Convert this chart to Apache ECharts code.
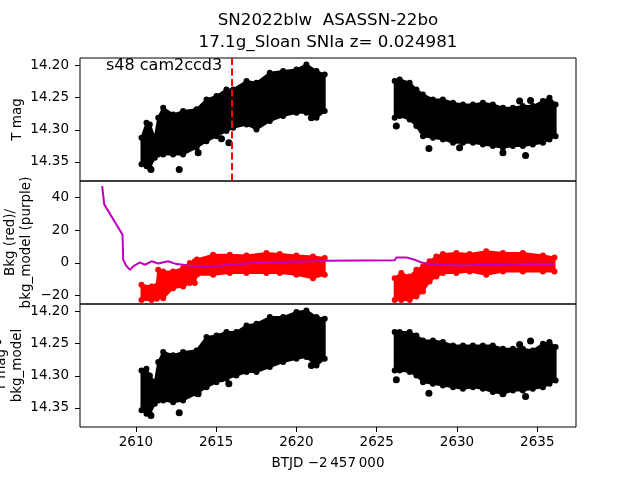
<!DOCTYPE html>
<html>
<head>
<meta charset="utf-8">
<script src="https://cdn.jsdelivr.net/npm/echarts@6/dist/echarts.min.js"></script>
<style>
  html, body { margin: 0; padding: 0; background: #fff; }
  #chart { width: 640px; height: 480px; }
</style>
</head>
<body>
<div id="chart"></div>
<script>
// values
const titleText = 'SN2022blw  ASASSN-22bo\n17.1g_Sloan SNIa z= 0.024981'
const sectorText = 's48 cam2ccd3'
const xName = 'BTJD \u22122\u2009457\u2009000'

const xRange = [2606.52, 2637.41]
const magRange = [14.188, 14.380]
const bkgRange = [-25.2, 50]
const xTicks = [2610, 2615, 2620, 2625, 2630, 2635]
const magTicks = [14.20, 14.25, 14.30, 14.35]
const bkgTicks = [-20, 0, 20, 40]
const refTime = 2616.0

// band envelopes: [time, upper edge, lower edge]
const tmagLeft = [
  [2610.35, 14.3125, 14.354], [2610.66, 14.289, 14.357], [2610.87, 14.2917, 14.3594],
  [2611.18, 14.3125, 14.3438], [2611.39, 14.2813, 14.3386], [2611.70, 14.2657, 14.3386],
  [2612.32, 14.276, 14.3386], [2612.94, 14.2709, 14.3386], [2613.78, 14.268, 14.328],
  [2614.40, 14.2526, 14.318], [2615.02, 14.2474, 14.310], [2615.64, 14.237, 14.302],
  [2616.06, 14.237, 14.297], [2616.89, 14.224, 14.2917], [2617.51, 14.2266, 14.2995],
  [2618.34, 14.211, 14.2865], [2619.17, 14.2084, 14.2787], [2620.00, 14.206, 14.2735],
  [2620.62, 14.198, 14.2735], [2621.25, 14.2084, 14.2813], [2621.76, 14.2136, 14.2709]
]
const tmagRight = [
  [2626.12, 14.224, 14.2813], [2626.43, 14.2214, 14.2787], [2627.05, 14.2266, 14.2839],
  [2627.47, 14.237, 14.2943], [2627.88, 14.2448, 14.310], [2628.50, 14.2526, 14.3125],
  [2629.12, 14.2526, 14.3151], [2629.75, 14.2578, 14.3203], [2630.37, 14.2605, 14.3203],
  [2630.99, 14.2605, 14.3203], [2631.61, 14.2578, 14.323], [2632.23, 14.2605, 14.3255],
  [2632.86, 14.2657, 14.328], [2633.48, 14.2657, 14.3255], [2634.10, 14.263, 14.3255],
  [2634.72, 14.263, 14.323], [2635.35, 14.2552, 14.3203], [2635.76, 14.250, 14.3151],
  [2636.14, 14.2605, 14.310]
]
const tmagOutliers = [
  [2612.70, 14.362], [2615.79, 14.3203], [2615.33, 14.3141], [2613.88, 14.336],
  [2620.93, 14.2813], [2610.94, 14.362], [2626.22, 14.2943], [2628.25, 14.3292],
  [2633.90, 14.2552], [2634.58, 14.2542], [2634.27, 14.3401], [2632.86, 14.336],
  [2630.16, 14.328]
]

const bkgLeft = [
  [2610.35, -13.5, -22.7], [2610.98, -14.5, -22.7], [2611.30, -14.0, -22.0],
  [2611.39, -4.3, -20.6], [2611.70, -5.3, -21.7], [2612.32, -5.3, -15.5],
  [2612.94, -3.2, -14.5], [2613.36, -0.2, -12.4], [2613.67, 0.9, -12.4],
  [2613.80, 2.0, -7.3], [2614.81, 4.9, -7.3], [2615.85, 4.9, -6.3],
  [2616.89, 4.5, -6.3], [2618.13, 6.0, -6.3], [2618.96, 5.4, -6.3],
  [2620.00, 4.5, -7.3], [2621.03, 3.9, -9.4], [2621.76, 2.9, -7.3]
]
const bkgRight = [
  [2626.12, -9.4, -22.7], [2626.53, -6.3, -22.7], [2627.05, -8.4, -22.7],
  [2627.47, -4.3, -20.6], [2627.88, -2.2, -17.6], [2628.29, 0.9, -11.4],
  [2628.71, 3.9, -8.4], [2629.12, 5.4, -6.3], [2629.96, 6.0, -6.3],
  [2630.78, 5.4, -5.3], [2631.82, 7.0, -7.3], [2632.86, 6.0, -5.3],
  [2634.10, 6.0, -5.3], [2635.35, 4.5, -5.3], [2636.07, 3.3, -5.3]
]
const bkgModel = [
  [2607.90, 46.9], [2608.03, 35.7], [2609.17, 17.2], [2609.21, 1.9], [2609.38, -1.6],
  [2609.63, -4.3], [2609.83, -2.2], [2610.25, 0.2], [2610.56, -1.2], [2610.98, 0.9],
  [2611.39, -0.4], [2612.01, 0.9], [2612.53, -0.8], [2613.36, -1.6], [2614.60, -2.2],
  [2615.85, -1.2], [2617.30, -0.2], [2618.96, 0.5], [2621.03, 0.9], [2621.76, 1.3],
  [2626.12, 1.5], [2626.22, 3.3], [2626.85, 3.3], [2627.36, 1.9], [2627.78, 0.2],
  [2628.29, -0.8], [2628.92, -1.2], [2630.37, -1.6], [2631.41, -1.2], [2632.86, -1.2],
  [2634.52, -0.6], [2636.07, -0.8]
]

const corrLeft = [
  [2610.35, 14.2917, 14.354], [2610.66, 14.289, 14.3594], [2610.87, 14.2995, 14.3594],
  [2611.18, 14.310, 14.3438], [2611.39, 14.2787, 14.3386], [2611.70, 14.263, 14.3386],
  [2612.32, 14.268, 14.3412], [2612.94, 14.263, 14.3386], [2613.78, 14.2605, 14.328],
  [2614.40, 14.2396, 14.318], [2615.02, 14.237, 14.310], [2615.64, 14.2318, 14.3047],
  [2616.26, 14.2318, 14.2995], [2616.89, 14.2214, 14.2943], [2617.51, 14.2188, 14.2943],
  [2618.34, 14.2084, 14.2865], [2619.17, 14.2084, 14.2787], [2620.00, 14.2005, 14.2735],
  [2620.62, 14.198, 14.2709], [2621.25, 14.2084, 14.2839], [2621.76, 14.211, 14.2735]
]
const corrRight = [
  [2626.12, 14.2318, 14.2917], [2626.43, 14.2318, 14.2917], [2627.05, 14.2318, 14.2943],
  [2627.47, 14.237, 14.2995], [2627.88, 14.2448, 14.310], [2628.50, 14.2448, 14.3125],
  [2629.12, 14.2474, 14.3151], [2629.75, 14.2526, 14.318], [2630.37, 14.2526, 14.3203],
  [2630.99, 14.2526, 14.318], [2631.61, 14.2526, 14.3203], [2632.23, 14.2526, 14.3255],
  [2632.86, 14.2578, 14.328], [2633.48, 14.2578, 14.323], [2634.10, 14.2578, 14.323],
  [2634.72, 14.2605, 14.3203], [2635.35, 14.250, 14.318], [2635.76, 14.2474, 14.3125],
  [2636.14, 14.2552, 14.3073]
]
const corrOutliers = [
  [2612.70, 14.3579], [2615.79, 14.3125], [2615.33, 14.3047], [2613.88, 14.328],
  [2620.93, 14.2839], [2610.94, 14.362], [2626.22, 14.3063], [2628.25, 14.3273],
  [2633.90, 14.2511], [2634.58, 14.2459], [2634.27, 14.3324], [2632.86, 14.328]
]

const FONT = 'DejaVu Sans'
const panelTops = [58, 181, 304]

const chart = echarts.init(document.getElementById('chart'), null, { renderer: 'canvas' })

// dense point cloud drawn as a filled envelope, with dots on its edge points
function bandSeries(rows, idx, color) {
  return {
    type: 'custom',
    xAxisIndex: idx,
    yAxisIndex: idx,
    z: 2,
    silent: true,
    data: rows,
    encode: { x: 0, y: [1, 2] },
    renderItem: (params, api) => {
      if (params.dataIndex !== 0) return null
      const upper = rows.map(r => api.coord([r[0], r[1]]))
      const lower = rows.map(r => api.coord([r[0], r[2]]))
      const dots = upper.concat(lower).map(p => ({
        type: 'circle',
        shape: { cx: p[0], cy: p[1], r: 3 },
        style: { fill: color },
      }))
      return {
        type: 'group',
        children: [{
          type: 'polygon',
          shape: { points: upper.concat(lower.slice().reverse()) },
          style: { fill: color, stroke: color, lineWidth: 2, lineJoin: 'round' },
        }].concat(dots),
      }
    },
  }
}

function xAxisFor(idx) {
  const bottom = idx === 2
  return {
    type: 'value',
    gridIndex: idx,
    min: xRange[0],
    max: xRange[1],
    splitLine: { show: false },
    axisLine: { show: false },
    axisTick: { show: bottom, length: 5, lineStyle: { color: '#000' }, customValues: xTicks },
    axisLabel: {
      show: bottom,
      customValues: xTicks,
      formatter: v => String(v),
      margin: 8,
      color: '#000',
      fontFamily: FONT,
      fontSize: 13.5,
    },
  }
}

function yAxisFor(idx, range, ticks, fmt, inverse) {
  return {
    type: 'value',
    gridIndex: idx,
    min: range[0],
    max: range[1],
    inverse: inverse,
    splitLine: { show: false },
    axisLine: { show: false },
    axisTick: { show: true, length: 5, lineStyle: { color: '#000' }, customValues: ticks },
    axisLabel: {
      customValues: ticks,
      formatter: fmt,
      margin: 11,
      color: '#000',
      fontFamily: FONT,
      fontSize: 13.5,
    },
  }
}

const magFmt = v => v.toFixed(2)
const bkgFmt = v => (v < 0 ? '\u2212' + Math.abs(v) : String(v))

function vText(x, y, text) {
  return {
    type: 'text',
    x: x,
    y: y,
    rotation: Math.PI / 2,
    style: {
      text: text,
      fill: '#000',
      font: '13.5px "' + FONT + '"',
      align: 'center',
      verticalAlign: 'middle',
      lineHeight: 16,
    },
  }
}

chart.setOption({
  animation: false,
  backgroundColor: '#fff',
  grid: panelTops.map(top => ({
    left: 80,
    top: top,
    width: 496,
    height: 123,
    show: true,
    borderColor: '#000',
    borderWidth: 1,
    backgroundColor: 'transparent',
  })),
  xAxis: [xAxisFor(0), xAxisFor(1), xAxisFor(2)],
  yAxis: [
    yAxisFor(0, magRange, magTicks, magFmt, true),
    yAxisFor(1, bkgRange, bkgTicks, bkgFmt, false),
    yAxisFor(2, magRange, magTicks, magFmt, true),
  ],
  series: [
    {
      type: 'scatter',
      xAxisIndex: 0,
      yAxisIndex: 0,
      z: 1,
      symbol: 'circle',
      symbolSize: 7,
      itemStyle: { color: '#000', opacity: 1 },
      data: tmagOutliers,
      markLine: {
        silent: true,
        symbol: ['none', 'none'],
        label: { show: false },
        lineStyle: { color: '#ff0000', width: 2, type: [7, 3.5], opacity: 1 },
        data: [{ xAxis: refTime }],
      },
    },
    bandSeries(tmagLeft, 0, '#000'),
    bandSeries(tmagRight, 0, '#000'),
    bandSeries(bkgLeft, 1, '#ff0000'),
    bandSeries(bkgRight, 1, '#ff0000'),
    {
      type: 'line',
      xAxisIndex: 1,
      yAxisIndex: 1,
      z: 3,
      showSymbol: false,
      lineStyle: { color: '#bf00bf', width: 2 },
      data: bkgModel,
    },
    bandSeries(corrLeft, 2, '#000'),
    bandSeries(corrRight, 2, '#000'),
    {
      type: 'scatter',
      xAxisIndex: 2,
      yAxisIndex: 2,
      z: 1,
      symbol: 'circle',
      symbolSize: 7,
      itemStyle: { color: '#000', opacity: 1 },
      data: corrOutliers,
    },
  ],
  graphic: [
    {
      type: 'text',
      x: 328,
      y: 32,
      style: {
        text: titleText,
        fill: '#000',
        font: '16.7px "' + FONT + '"',
        align: 'center',
        verticalAlign: 'middle',
        lineHeight: 22,
      },
    },
    {
      type: 'text',
      x: 106,
      y: 66,
      style: {
        text: sectorText,
        fill: '#000',
        font: '16px "' + FONT + '"',
        align: 'left',
        verticalAlign: 'middle',
      },
    },
    {
      type: 'text',
      x: 328,
      y: 463,
      style: {
        text: xName,
        fill: '#000',
        font: '13.5px "' + FONT + '"',
        align: 'center',
        verticalAlign: 'middle',
      },
    },
    vText(17, 119.5, 'T mag'),
    vText(18, 242.5, 'Bkg (red)/\nbkg_model (purple)'),
    vText(9, 365.5, 'T mag -\nbkg_model'),
  ],
})
</script>
</body>
</html>
